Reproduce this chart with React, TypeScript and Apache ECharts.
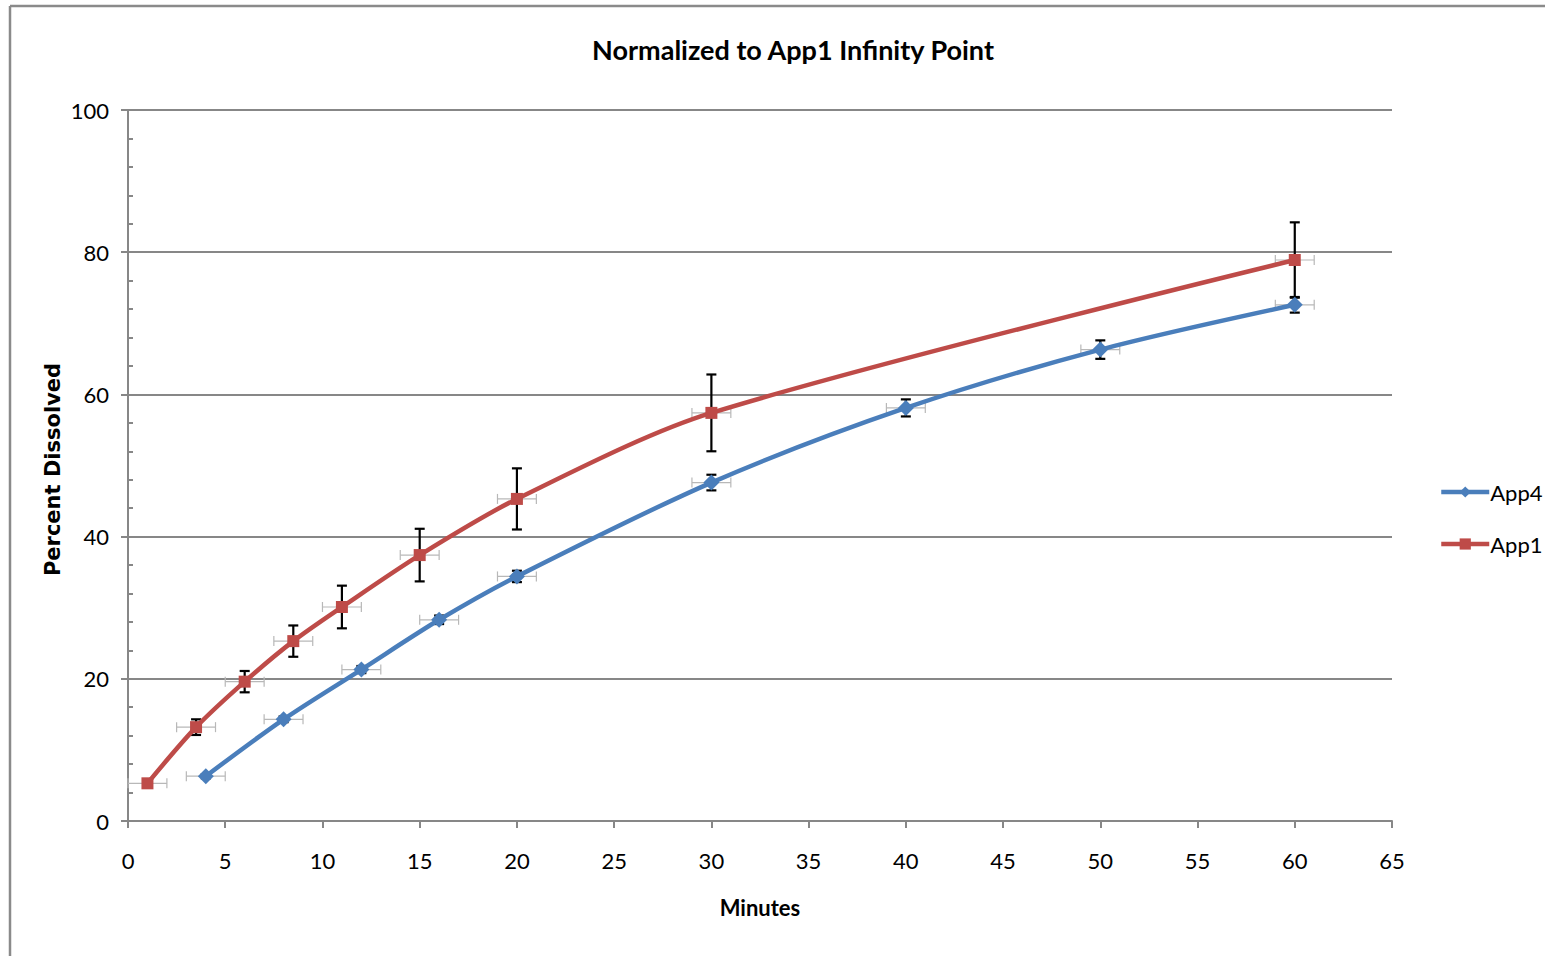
import React, { useEffect, useRef } from "react";
import * as echarts from "echarts";

const title = "Normalized to App1 Infinity Point";
const xName = "Minutes";
const yName = "Percent Dissolved";

const app1Minutes = [1, 3.5, 6, 8.5, 11, 15, 20, 30, 60];
const app1Values = [5.3, 13.2, 19.6, 25.3, 30.1, 37.4, 45.3, 57.4, 78.9];
const app1Err = [0.5, 1.1, 1.5, 2.2, 3.0, 3.7, 4.3, 5.4, 5.3];

const app4Minutes = [4, 8, 12, 16, 20, 30, 40, 50, 60];
const app4Values = [6.3, 14.3, 21.3, 28.3, 34.4, 47.6, 58.1, 66.3, 72.6];
const app4Err = [0.3, 0.4, 0.5, 0.6, 0.8, 1.1, 1.2, 1.3, 1.1];

const xErr = 1;

const BLUE = "#4a7ebb";
const RED = "#be4b48";
const GRID = "#878787";
const LABEL_FONT = "Lato";

function vBars(params: any, api: any) {
  const x = api.value(0);
  const y = api.value(1);
  const e = api.value(2);
  const top = api.coord([x, y + e]);
  const bot = api.coord([x, y - e]);
  const cap = 5;
  const style = { stroke: "#000", lineWidth: 2.2 };
  return {
    type: "group",
    children: [
      { type: "line", shape: { x1: top[0], y1: top[1], x2: bot[0], y2: bot[1] }, style },
      { type: "line", shape: { x1: top[0] - cap, y1: top[1], x2: top[0] + cap, y2: top[1] }, style },
      { type: "line", shape: { x1: bot[0] - cap, y1: bot[1], x2: bot[0] + cap, y2: bot[1] }, style },
    ],
  };
}

function hBars(params: any, api: any) {
  const x = api.value(0);
  const y = api.value(1);
  const e = api.value(2);
  const l = api.coord([x - e, y]);
  const r = api.coord([x + e, y]);
  const cap = 5;
  const style = { stroke: "#b8b8b8", lineWidth: 1.2 };
  return {
    type: "group",
    children: [
      { type: "line", shape: { x1: l[0], y1: l[1], x2: r[0], y2: r[1] }, style },
      { type: "line", shape: { x1: l[0], y1: l[1] - cap, x2: l[0], y2: l[1] + cap }, style },
      { type: "line", shape: { x1: r[0], y1: r[1] - cap, x2: r[0], y2: r[1] + cap }, style },
    ],
  };
}

export default function App() {
  const ref = useRef<HTMLDivElement>(null);

  useEffect(() => {
    if (!ref.current) return;
    const chart = echarts.init(ref.current, undefined, { renderer: "svg" });

    const app4Line = app4Minutes.map((m, i) => [m, app4Values[i]]);
    const app1Line = app1Minutes.map((m, i) => [m, app1Values[i]]);
    const app4V = app4Minutes.map((m, i) => [m, app4Values[i], app4Err[i]]);
    const app1V = app1Minutes.map((m, i) => [m, app1Values[i], app1Err[i]]);
    const app4H = app4Minutes.map((m, i) => [m, app4Values[i], xErr]);
    const app1H = app1Minutes.map((m, i) => [m, app1Values[i], xErr]);

    chart.setOption({
      animation: false,
      backgroundColor: "#fff",
      title: {
        text: title,
        left: 788,
        textAlign: "center",
        top: 31,
        textStyle: { fontFamily: LABEL_FONT, fontWeight: "bold", fontSize: 27, color: "#000" },
      },
      graphic: [
        { type: "line", shape: { x1: 10, y1: 6, x2: 1545, y2: 6 }, style: { stroke: "#8a8a8a", lineWidth: 2.5 } },
        { type: "line", shape: { x1: 10, y1: 6, x2: 10, y2: 956 }, style: { stroke: "#8a8a8a", lineWidth: 2.5 } },
      ],
      legend: {
        orient: "vertical",
        left: 1434,
        top: 476,
        itemWidth: 48,
        itemHeight: 14,
        itemGap: 30,
        data: ["App4", "App1"],
        lineStyle: { width: 4.5 },
        textStyle: { fontFamily: LABEL_FONT, fontSize: 22, color: "#000", padding: [0, 0, 0, -4] },
      },
      grid: { left: 128, right: 153, top: 110, bottom: 135, containLabel: false },
      xAxis: {
        type: "value",
        min: 0,
        max: 65,
        interval: 5,
        name: xName,
        nameLocation: "middle",
        nameGap: 75,
        nameMoveOverlap: false,
        nameTextStyle: { fontFamily: LABEL_FONT, fontWeight: "bold", fontSize: 22, color: "#000" },
        axisLine: { show: true, lineStyle: { color: GRID, width: 2 } },
        axisTick: { show: true, length: 7, lineStyle: { color: GRID, width: 2 } },
        axisLabel: { margin: 28, fontFamily: LABEL_FONT, fontSize: 22, color: "#000" },
        splitLine: { show: false },
      },
      yAxis: [
        {
          type: "value",
          min: 0,
          max: 100,
          interval: 20,
          name: yName,
          nameLocation: "middle",
          nameGap: 65,
          nameRotate: 90,
          nameMoveOverlap: false,
          nameTextStyle: {
            fontFamily: "DejaVu Sans",
            fontWeight: "bold",
            fontSize: 21,
            color: "#000",
            padding: [0, 8, 0, 0],
          },
          axisLine: { show: true, lineStyle: { color: GRID, width: 2 } },
          axisTick: { show: true, length: 7, lineStyle: { color: GRID, width: 2 } },
          axisLabel: { margin: 19, fontFamily: LABEL_FONT, fontSize: 22, color: "#000" },
          splitLine: { show: true, lineStyle: { color: GRID, width: 2 } },
        },
        {
          type: "value",
          min: 0,
          max: 100,
          interval: 20,
          position: "left",
          axisLine: { show: false },
          axisTick: { show: false, inside: true },
          axisLabel: { show: false },
          splitLine: { show: false },
          minorTick: { show: true, splitNumber: 5, length: 5, lineStyle: { color: GRID, width: 2 } },
        },
      ],
      series: [
        {
          name: "App4",
          type: "line",
          data: app4Line,
          smooth: 0.3,
          symbol: "diamond",
          symbolSize: 16,
          itemStyle: { color: BLUE },
          lineStyle: { color: BLUE, width: 4.5 },
          z: 3,
        },
        {
          name: "App1",
          type: "line",
          data: app1Line,
          smooth: 0.3,
          symbol: "rect",
          symbolSize: 12,
          itemStyle: { color: RED },
          lineStyle: { color: RED, width: 4.5 },
          z: 3,
        },
        { name: "App4 xerr", type: "custom", renderItem: hBars, data: app4H, z: 1, silent: true },
        { name: "App1 xerr", type: "custom", renderItem: hBars, data: app1H, z: 1, silent: true },
        { name: "App4 yerr", type: "custom", renderItem: vBars, data: app4V, z: 2, silent: true },
        { name: "App1 yerr", type: "custom", renderItem: vBars, data: app1V, z: 2, silent: true },
      ],
    });

    return () => chart.dispose();
  }, []);

  return (
    <div
      ref={ref}
      style={{ position: "fixed", left: 0, top: 0, width: 1545, height: 956, background: "#fff" }}
    />
  );
}
